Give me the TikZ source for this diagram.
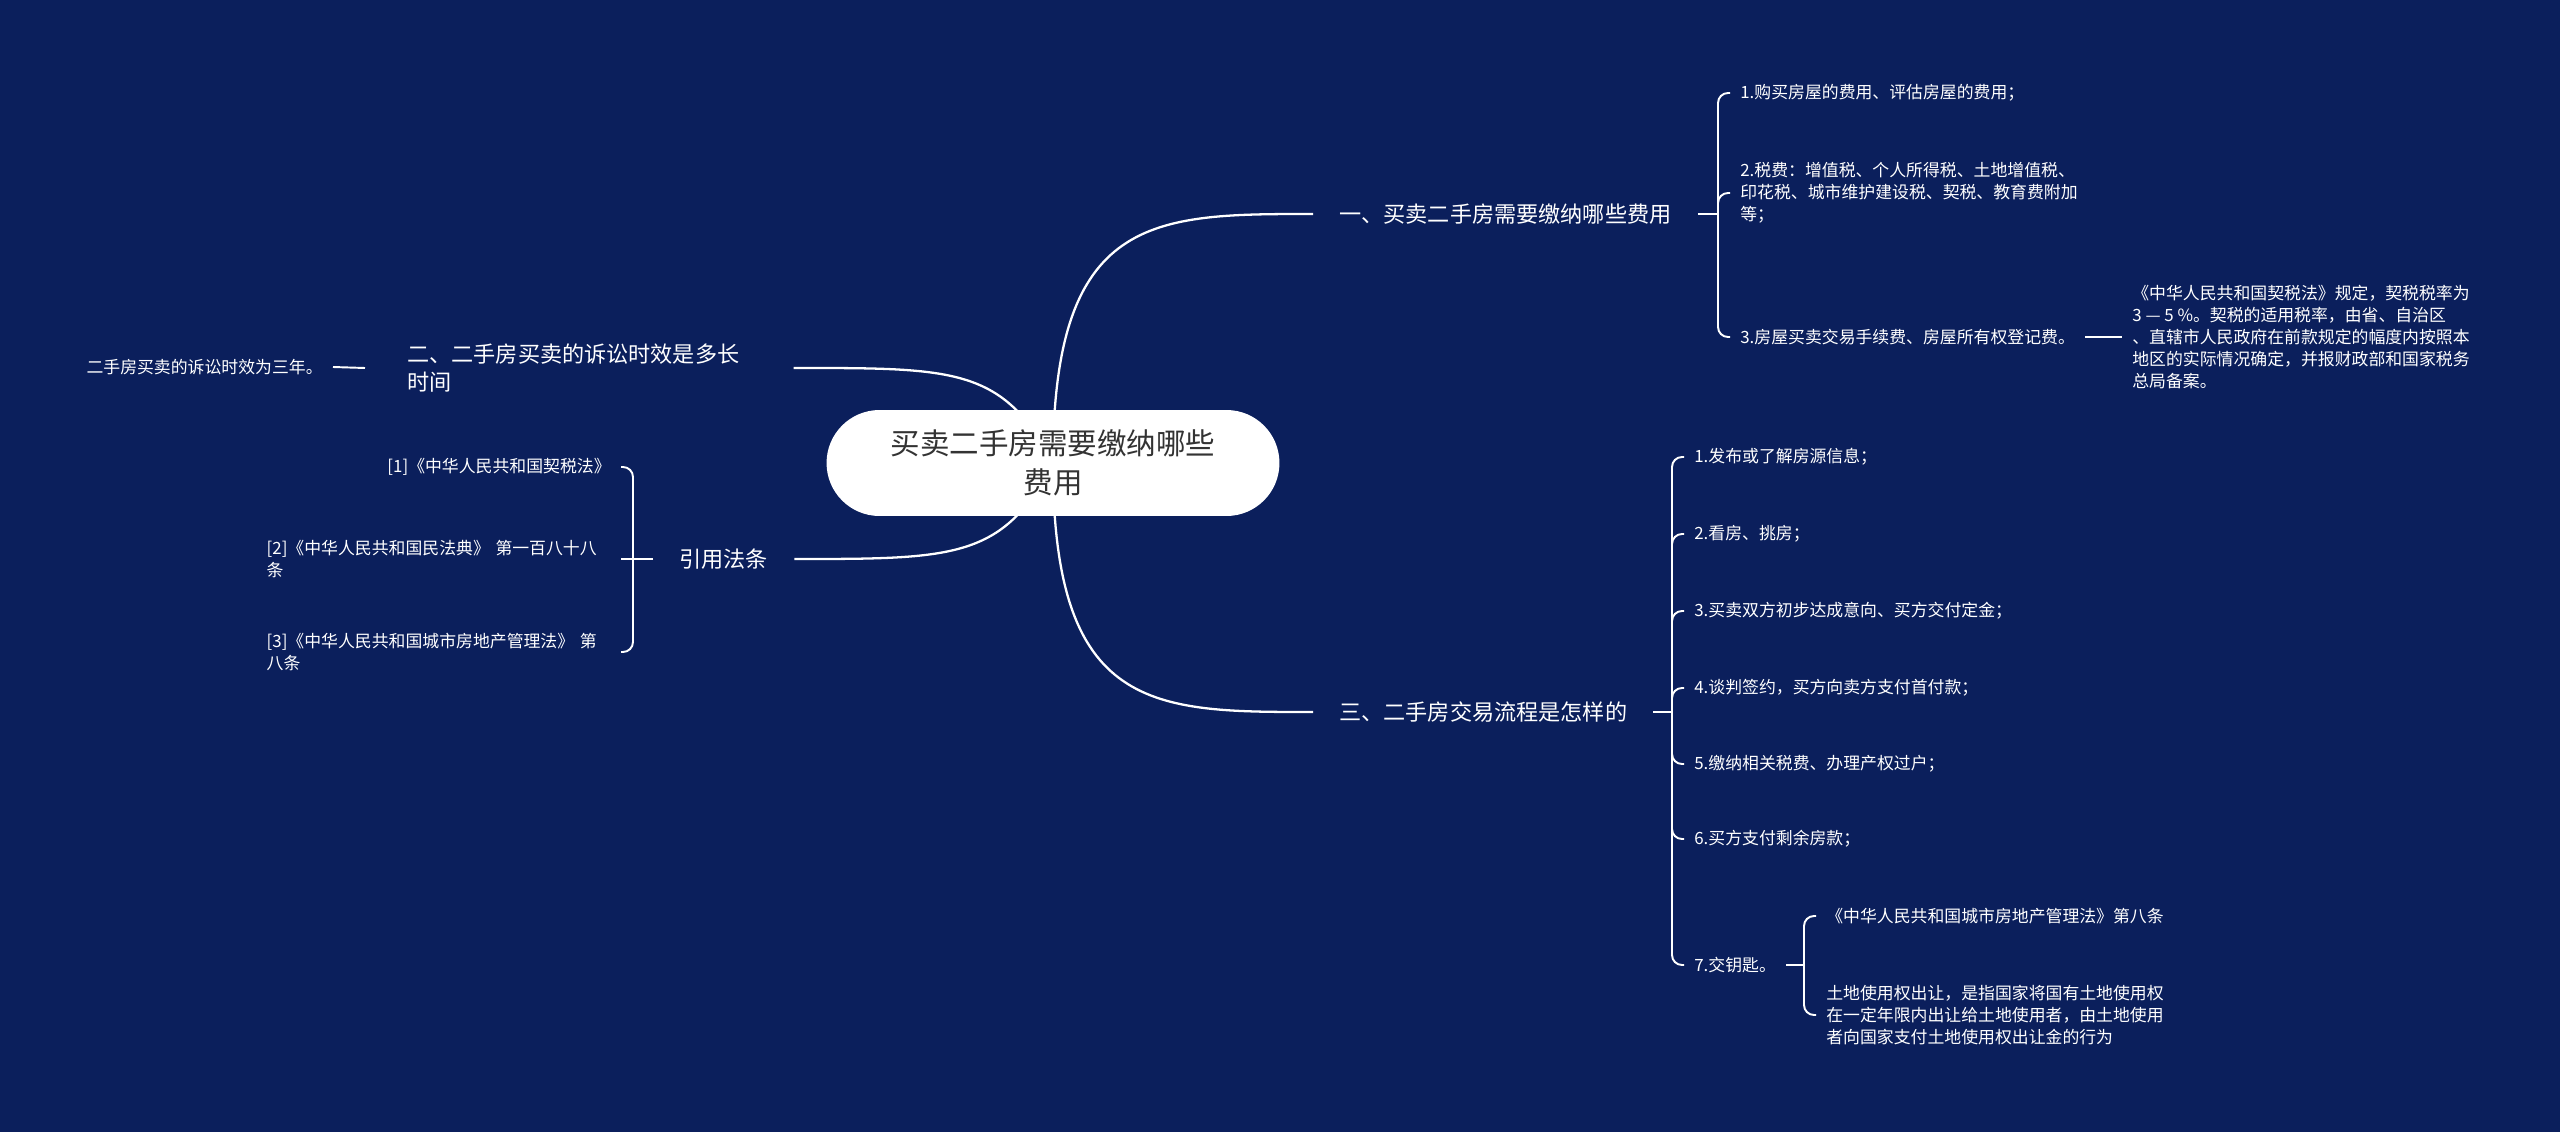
\documentclass[tikz,border=0pt]{standalone}
\usepackage{fontspec}
\setmainfont{Noto Sans CJK SC}
\definecolor{bgnavy}{HTML}{0B1F5C}
\definecolor{rootgray}{HTML}{333333}
\newcommand{\rootsize}{\fontsize{16.8}{22.1}\selectfont}
\newcommand{\mainsize}{\fontsize{12.6}{15.9}\selectfont}
\newcommand{\subsize}{\fontsize{9.6}{12.5}\selectfont}
\pgfdeclarelayer{bg}
\pgfdeclarelayer{edges}
\pgfsetlayers{bg,edges,main}

\begin{document}
\begin{tikzpicture}[x=0.02cm, y=-0.02cm,
		rootbox/.style={fill=white, text=rootgray, rounded corners=1.06cm, minimum width=9.06cm, minimum height=2.12cm, align=center, font=\rootsize},
		topic/.style={text=white, inner ysep=2pt, inner xsep=0.52cm, align=left, font=\mainsize},
		leaf/.style={text=white, inner ysep=2pt, inner xsep=0.2cm, align=left, font=\subsize},
		link/.style={draw=white, line width=1.3pt},
		brace/.style={draw=white, line width=1.1pt, rounded corners=0.2cm}]
			\useasboundingbox (0,0) rectangle (2560,1132);
			\begin{pgfonlayer}{bg}
				\fill[bgnavy] (0,0) rectangle (2560,1132);
			\end{pgfonlayer}
			
			\node[rootbox] (root) at (1053,463) {买卖二手房需要缴纳哪些\\费用};
			
			% right side
			\node[topic, anchor=west] (q1) at (1313,214) {一、买卖二手房需要缴纳哪些费用};
			\coordinate (q1s) at (1718,214);
			\node[leaf, anchor=west] (s11) at (1730,93) {1.购买房屋的费用、评估房屋的费用；};
			\node[leaf, anchor=west] (s12) at (1730,193) {2.税费：增值税、个人所得税、土地增值税、\\印花税、城市维护建设税、契税、教育费附加\\等；};
			\node[leaf, anchor=west] (s13) at (1730,337) {3.房屋买卖交易手续费、房屋所有权登记费。};
			\node[leaf, anchor=west] (n13) at (2122,337) {《中华人民共和国契税法》规定，契税税率为\\3 — 5 \%。契税的适用税率，由省、自治区\\、直辖市人民政府在前款规定的幅度内按照本\\地区的实际情况确定，并报财政部和国家税务\\总局备案。};
			
			\node[topic, anchor=west] (q3) at (1313,712) {三、二手房交易流程是怎样的};
			\coordinate (q3s) at (1672,712);
			\node[leaf, anchor=west] (s31) at (1684,457) {1.发布或了解房源信息；};
			\node[leaf, anchor=west] (s32) at (1684,534) {2.看房、挑房；};
			\node[leaf, anchor=west] (s33) at (1684,611) {3.买卖双方初步达成意向、买方交付定金；};
			\node[leaf, anchor=west] (s34) at (1684,688) {4.谈判签约，买方向卖方支付首付款；};
			\node[leaf, anchor=west] (s35) at (1684,764) {5.缴纳相关税费、办理产权过户；};
			\node[leaf, anchor=west] (s36) at (1684,839) {6.买方支付剩余房款；};
			\node[leaf, anchor=west] (s37) at (1684,965) {7.交钥匙。};
			\coordinate (s37s) at (1804,965);
			\node[leaf, anchor=west] (t71) at (1816,916) {《中华人民共和国城市房地产管理法》第八条};
			\node[leaf, anchor=west] (t72) at (1816,1015) {土地使用权出让，是指国家将国有土地使用权\\在一定年限内出让给土地使用者，由土地使用\\者向国家支付土地使用权出让金的行为};
			
			% left side
			\node[topic, anchor=west, inner xsep=0.84cm, text width=6.88cm] (q2) at (365,368) {二、二手房买卖的诉讼时效是多长\\时间};
			\node[leaf, anchor=east] (l2) at (333,367) {二手房买卖的诉讼时效为三年。};
			
			\node[topic, anchor=west] (q4) at (653,559) {引用法条};
			\coordinate (q4s) at (633,559);
			\node[leaf, anchor=east] (r1) at (621,467) {[1]《中华人民共和国契税法》};
			\node[leaf, anchor=east, text width=6.88cm] (r2) at (621,559) {[2]《中华人民共和国民法典》 第一百八十八\\条};
			\node[leaf, anchor=east, text width=6.88cm] (r3) at (621,652) {[3]《中华人民共和国城市房地产管理法》 第\\八条};
			
			\begin{pgfonlayer}{edges}
				\draw[link] (root.center) .. controls +(0,-249) and +(-160,0) .. (q1.west);
				\draw[link] (root.center) .. controls +(0,249) and +(-160,0) .. (q3.west);
				\draw[link] (root.center) .. controls +(-50,-96) and +(160,0) .. (q2.east);
				\draw[link] (root.center) .. controls +(-50,96) and +(160,0) .. (q4.east);
			\end{pgfonlayer}
			
			\draw[brace] (q1.east) -- (q1s);
			\draw[brace] (q1s) |- (s11.west);
			\draw[brace] (q1s) |- (s12.west);
			\draw[brace] (q1s) |- (s13.west);
			\draw[brace] (s13.east) -- (n13.west);
			
			\draw[brace] (q3.east) -- (q3s);
			\draw[brace] (q3s) |- (s31.west);
			\draw[brace] (q3s) |- (s32.west);
			\draw[brace] (q3s) |- (s33.west);
			\draw[brace] (q3s) |- (s34.west);
			\draw[brace] (q3s) |- (s35.west);
			\draw[brace] (q3s) |- (s36.west);
			\draw[brace] (q3s) |- (s37.west);
			\draw[brace] (s37.east) -- (s37s);
			\draw[brace] (s37s) |- (t71.west);
			\draw[brace] (s37s) |- (t72.west);
			
			\draw[brace] (q2.west) -- (l2.east);
			
			\draw[brace] (q4.west) -- (q4s);
			\draw[brace] (q4s) |- (r1.east);
			\draw[brace] (q4s) -- (r2.east);
			\draw[brace] (q4s) |- (r3.east);
			
		\end{tikzpicture}
\end{document}
